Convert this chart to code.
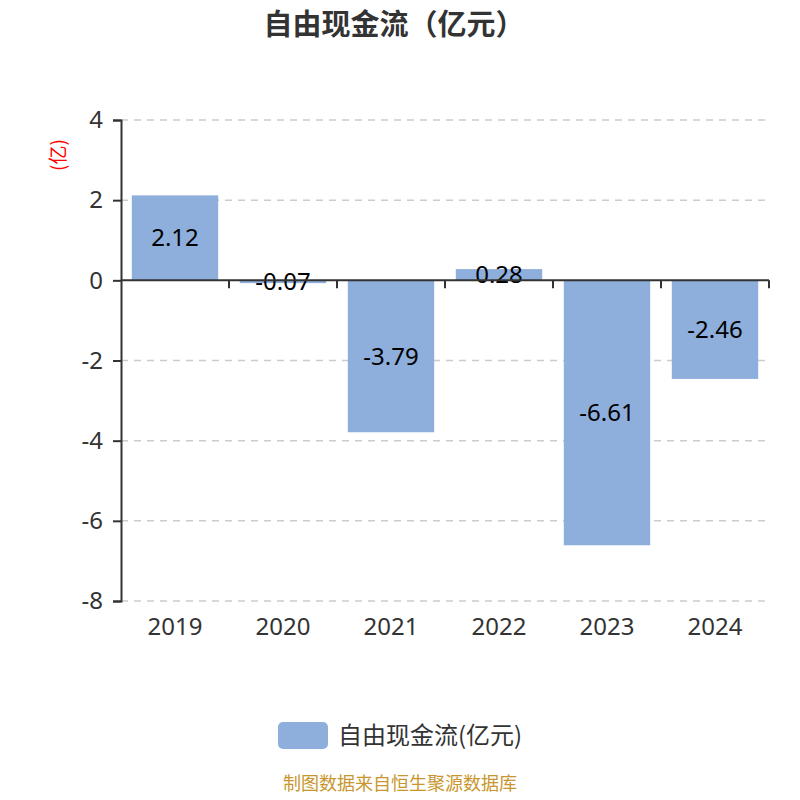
<!DOCTYPE html>
<html>
<head>
<meta charset="utf-8">
<script src="https://cdn.jsdelivr.net/npm/d3@7"></script>
<style>
  body { margin: 0; background: #fff; }
  text { font-family: "Noto Sans CJK SC", "Noto Sans", sans-serif; }
</style>
</head>
<body>
<div id="chart"></div>
<script>
// Data
const years = ["2019", "2020", "2021", "2022", "2023", "2024"];
const freeCashFlow = [2.12, -0.07, -3.79, 0.28, -6.61, -2.46];
const yTicks = [4, 2, 0, -2, -4, -6, -8];
const seriesName = "自由现金流(亿元)";

const barColor = "#8eaedb";

const dimensions = {
  width: 800,
  height: 800,
  margin: { top: 120, right: 31, bottom: 199, left: 121 },
};
dimensions.boundedWidth =
  dimensions.width - dimensions.margin.left - dimensions.margin.right;
dimensions.boundedHeight =
  dimensions.height - dimensions.margin.top - dimensions.margin.bottom;

const svg = d3
  .select("#chart")
  .append("svg")
  .attr("width", dimensions.width)
  .attr("height", dimensions.height);

// Title
svg
  .append("text")
  .attr("x", 394)
  .attr("y", 35)
  .attr("text-anchor", "middle")
  .attr("font-size", 29)
  .attr("font-weight", "bold")
  .attr("fill", "#333")
  .text("自由现金流（亿元）");

const bounds = svg
  .append("g")
  .attr(
    "transform",
    `translate(${dimensions.margin.left},${dimensions.margin.top})`
  );

// Scales
const xScale = d3
  .scaleBand()
  .domain(years)
  .range([0, dimensions.boundedWidth])
  .paddingInner(0.2)
  .paddingOuter(0.1);
const yScale = d3
  .scaleLinear()
  .domain([-8, 4])
  .range([dimensions.boundedHeight, 0]);

// Grid lines
bounds
  .selectAll(".grid")
  .data(yTicks.filter((d) => d !== 0))
  .join("line")
  .attr("class", "grid")
  .attr("x1", 0)
  .attr("x2", dimensions.boundedWidth)
  .attr("y1", (d) => yScale(d))
  .attr("y2", (d) => yScale(d))
  .attr("stroke", "#ccc")
  .attr("stroke-width", 1.5)
  .attr("stroke-dasharray", "7,6");

// Bars
bounds
  .selectAll(".bar")
  .data(freeCashFlow)
  .join("rect")
  .attr("class", "bar")
  .attr("x", (d, i) => xScale(years[i]))
  .attr("width", xScale.bandwidth())
  .attr("y", (d) => yScale(Math.max(d, 0)))
  .attr("height", (d) => Math.abs(yScale(d) - yScale(0)))
  .attr("fill", barColor);

// Bar labels
bounds
  .selectAll(".label")
  .data(freeCashFlow)
  .join("text")
  .attr("class", "label")
  .attr("x", (d, i) => xScale(years[i]) + xScale.bandwidth() / 2)
  .attr("y", (d) => (yScale(d) + yScale(0)) / 2)
  .attr("dy", "0.35em")
  .attr("text-anchor", "middle")
  .attr("font-size", 24)
  .attr("fill", "#000")
  .style("font-family", '"Noto Sans", sans-serif')
  .text((d) => d.toFixed(2));

// Y axis
const yAxis = d3
  .axisLeft(yScale)
  .tickValues(yTicks)
  .tickSize(8)
  .tickPadding(10)
  .tickFormat((d) => String(d));
const yAxisG = bounds.append("g").call(yAxis);
yAxisG.select(".domain").attr("stroke", "#333").attr("stroke-width", 2);
yAxisG.selectAll(".tick line").attr("stroke", "#333").attr("stroke-width", 2);
yAxisG
  .selectAll(".tick text")
  .attr("font-size", 24)
  .attr("fill", "#333")
  .style("font-family", '"Noto Sans", sans-serif');

// X axis line at zero, with ticks at band boundaries
const zeroY = yScale(0);
bounds
  .append("line")
  .attr("x1", 0)
  .attr("x2", dimensions.boundedWidth)
  .attr("y1", zeroY)
  .attr("y2", zeroY)
  .attr("stroke", "#333")
  .attr("stroke-width", 2);
const step = xScale.step();
const boundaries = years.map((d, i) => (i + 1) * step);
bounds
  .selectAll(".xtick")
  .data(boundaries)
  .join("line")
  .attr("class", "xtick")
  .attr("x1", (d) => d)
  .attr("x2", (d) => d)
  .attr("y1", zeroY)
  .attr("y2", zeroY + 8)
  .attr("stroke", "#333")
  .attr("stroke-width", 2);

// X labels at bottom
bounds
  .selectAll(".xlabel")
  .data(years)
  .join("text")
  .attr("class", "xlabel")
  .attr("x", (d) => xScale(d) + xScale.bandwidth() / 2)
  .attr("y", dimensions.boundedHeight + 26)
  .attr("dy", "0.35em")
  .attr("text-anchor", "middle")
  .attr("font-size", 24)
  .attr("fill", "#333")
  .style("font-family", '"Noto Sans", sans-serif')
  .text((d) => d);

// Y axis name
svg
  .append("text")
  .attr("transform", "translate(58,155) rotate(-90)")
  .attr("text-anchor", "middle")
  .attr("dy", "0.35em")
  .attr("font-size", 19)
  .attr("fill", "red")
  .text("(亿)");

// Legend
svg
  .append("rect")
  .attr("x", 278)
  .attr("y", 722)
  .attr("width", 50)
  .attr("height", 27)
  .attr("rx", 5)
  .attr("fill", barColor);
svg
  .append("text")
  .attr("x", 338)
  .attr("y", 736)
  .attr("dy", "0.35em")
  .attr("font-size", 24)
  .attr("fill", "#333")
  .text(seriesName);

// Footer
svg
  .append("text")
  .attr("x", 400)
  .attr("y", 790)
  .attr("text-anchor", "middle")
  .attr("font-size", 18)
  .attr("fill", "#c8962d")
  .text("制图数据来自恒生聚源数据库");
</script>
</body>
</html>
